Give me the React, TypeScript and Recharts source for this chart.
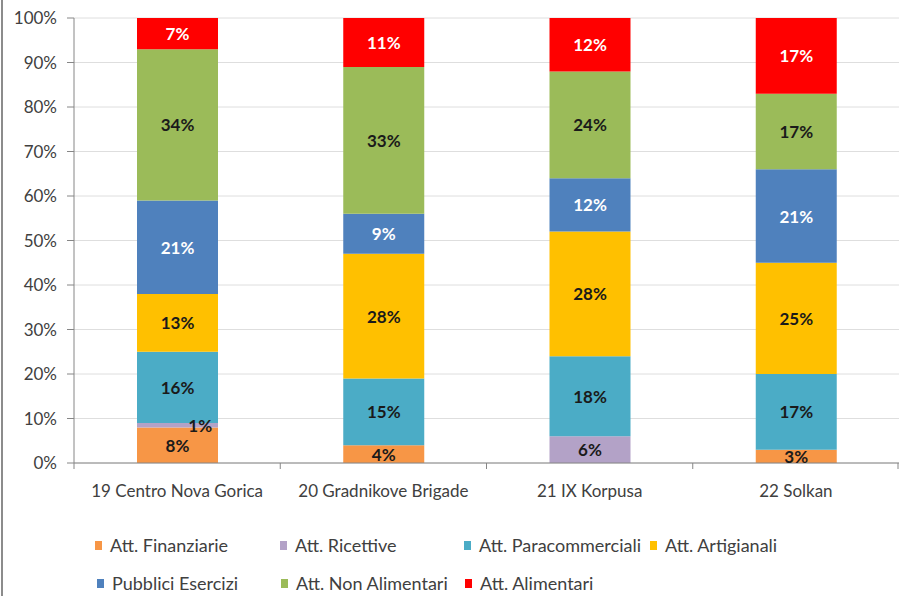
import React from "react";
import {
  BarChart,
  Bar,
  XAxis,
  YAxis,
  CartesianGrid,
  LabelList,
} from "recharts";

// Shares of commercial activity by zone (%), bottom to top of each stack.
const zones = [
  "19 Centro Nova Gorica",
  "20 Gradnikove Brigade",
  "21 IX Korpusa",
  "22 Solkan",
];
const finanziarie = [8, 4, 0, 3];
const ricettive = [1, 0, 6, 0];
const paracommerciali = [16, 15, 18, 17];
const artigianali = [13, 28, 28, 25];
const pubbliciEsercizi = [21, 9, 12, 21];
const nonAlimentari = [34, 33, 24, 17];
const alimentari = [7, 11, 12, 17];
const yTicks = [0, 10, 20, 30, 40, 50, 60, 70, 80, 90, 100];

const SERIES = [
  { key: "fin", name: "Att. Finanziarie", values: finanziarie, color: "#F79646", light: false },
  { key: "ric", name: "Att. Ricettive", values: ricettive, color: "#B3A2C7", light: false },
  { key: "para", name: "Att. Paracommerciali", values: paracommerciali, color: "#4BACC6", light: false },
  { key: "art", name: "Att. Artigianali", values: artigianali, color: "#FFC000", light: false },
  { key: "pub", name: "Pubblici Esercizi", values: pubbliciEsercizi, color: "#4F81BD", light: true },
  { key: "nonal", name: "Att. Non Alimentari", values: nonAlimentari, color: "#9BBB59", light: false },
  { key: "alim", name: "Att. Alimentari", values: alimentari, color: "#FF0000", light: true },
];

const data = zones.map((zone, i) => {
  const row: Record<string, string | number> = { zone };
  SERIES.forEach((s) => {
    row[s.key] = s.values[i];
  });
  return row;
});

const W = 899;
const H = 596;
const Y_AXIS_W = 74;
const BAND = (W - Y_AXIS_W) / zones.length;
const FONT = "Lato, 'Open Sans', sans-serif";
const TEXT = "#404040";

// legend rows, Excel style (left offsets of the swatches in px)
const LEGEND_ROWS = [
  { top: 535, items: [0, 1, 2, 3], lefts: [95, 280, 464, 650] },
  { top: 573, items: [4, 5, 6], lefts: [97, 281, 465] },
];

function makeLabel(light: boolean) {
  return function SegLabel(props: any) {
    const { x, y, width, height, value } = props;
    if (!value) return null;
    // tiny slices get their label pushed to the right side of the bar
    const dx = height < 8 ? width * 0.28 : 0;
    return (
      <text
        x={x + width / 2 + dx}
        y={y + height / 2}
        textAnchor="middle"
        dominantBaseline="central"
        fontSize={17}
        fontWeight={700}
        fontFamily={FONT}
        fill={light ? "#ffffff" : "#1a1a1a"}
      >
        {value}%
      </text>
    );
  };
}

function ZoneTick(props: any) {
  const { x, y, payload, index } = props;
  return (
    <g>
      <line x1={x - BAND / 2} y1={y - 8} x2={x - BAND / 2} y2={y - 2} stroke="#868686" />
      {index === zones.length - 1 && (
        <line x1={x + BAND / 2 - 1} y1={y - 8} x2={x + BAND / 2 - 1} y2={y - 2} stroke="#868686" />
      )}
      <text
        x={x}
        y={y + 26}
        textAnchor="middle"
        fontSize={17}
        fontFamily={FONT}
        fill={TEXT}
      >
        {payload.value}
      </text>
    </g>
  );
}

export default function App() {
  return (
    <div
      style={{
        position: "fixed",
        top: 0,
        left: 0,
        width: W,
        height: H,
        background: "#ffffff",
        fontFamily: FONT,
        overflow: "hidden",
      }}
    >
      <div
        style={{
          position: "absolute",
          left: 1,
          top: 0,
          width: 2,
          height: H,
          background: "#8c8c8c",
        }}
      />
      <BarChart
        width={W}
        height={H}
        data={data}
        margin={{ top: 18, right: 0, left: 0, bottom: 93 }}
        barCategoryGap={0}
      >
        <CartesianGrid vertical={false} stroke="#dedede" />
        <XAxis
          dataKey="zone"
          height={40}
          interval={0}
          tickLine={false}
          axisLine={{ stroke: "#868686" }}
          tick={<ZoneTick />}
        />
        <YAxis
          width={Y_AXIS_W}
          domain={[0, 100]}
          ticks={yTicks}
          interval={0}
          tickSize={7}
          tickMargin={10}
          tickLine={{ stroke: "#868686" }}
          axisLine={{ stroke: "#868686" }}
          tickFormatter={(v: number) => `${v}%`}
          tick={{ fontSize: 17, fill: TEXT, fontFamily: FONT }}
        />
        {SERIES.map((s) => (
          <Bar
            key={s.key}
            dataKey={s.key}
            name={s.name}
            stackId="a"
            fill={s.color}
            barSize={81}
            isAnimationActive={false}
          >
            <LabelList dataKey={s.key} content={makeLabel(s.light)} />
          </Bar>
        ))}
      </BarChart>
      {LEGEND_ROWS.map((row, r) =>
        row.items.map((si, j) => (
          <div
            key={`${r}-${j}`}
            style={{
              position: "absolute",
              top: row.top,
              left: row.lefts[j],
              display: "flex",
              alignItems: "center",
              gap: 8,
              fontSize: 18,
              color: TEXT,
              whiteSpace: "nowrap",
              lineHeight: "20px",
            }}
          >
            <span
              style={{
                display: "inline-block",
                width: 7,
                height: 9,
                background: SERIES[si].color,
              }}
            />
            {SERIES[si].name}
          </div>
        ))
      )}
    </div>
  );
}
